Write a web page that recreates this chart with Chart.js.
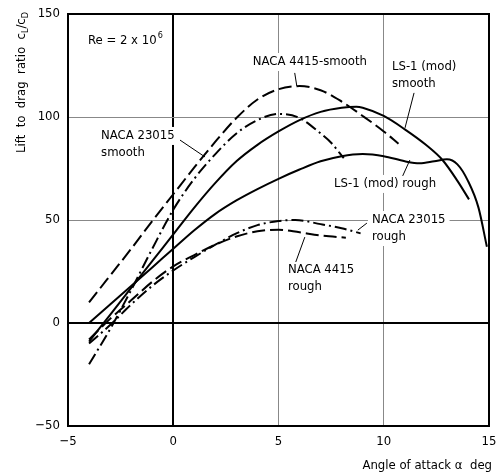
<!DOCTYPE html>
<html>
<head>
<meta charset="utf-8">
<script src="https://cdn.jsdelivr.net/npm/chart.js@4.4.1/dist/chart.umd.min.js"></script>
<style>
  html, body { margin: 0; padding: 0; background: #fff; }
</style>
</head>
<body>
<canvas id="ldChart" width="496" height="474"></canvas>
<script>
// lift to drag ratio vs angle of attack, Re = 2 x 10^6
const ls1SmoothAlpha = [-4, -3, -2, -1, 0, 1, 2, 3, 4, 5, 6, 7, 8, 8.7, 9, 10, 11, 12, 12.8, 13.5, 14.05];
const ls1SmoothLD    = [-9, 4, 17, 30, 43, 56, 68, 78.5, 86.5, 93, 98.5, 102.5, 104.5, 105, 104.5, 100.5, 94, 86.5, 79, 69, 60];

const ls1RoughAlpha = [-4, -3, -2, -1, 0, 1, 2, 3, 4, 5, 6, 7, 8, 9, 10, 11, 11.7, 12.4, 13, 13.5, 14, 14.5, 14.9];
const ls1RoughLD    = [0, 9, 18, 27, 36, 45, 53, 59.5, 65, 70, 74.5, 78.5, 81, 82, 81, 78.5, 77.5, 78.5, 79.5, 77, 69, 56, 37];

const naca4415SmoothAlpha = [-4, -3, -2, -1, 0, 1, 2, 3, 4, 5, 6, 7, 8, 9, 10, 10.7];
const naca4415SmoothLD    = [10, 23, 36, 49.5, 62.5, 75.5, 88, 99.5, 108.5, 113.5, 115, 113, 107.5, 100.5, 93, 87];

const naca23015SmoothAlpha = [-4, -3, -2, -1, 0, 1, 2, 3, 4, 5, 6, 7, 7.5, 8.1];
const naca23015SmoothLD    = [-20, -3, 16, 36, 55, 70, 82, 92, 98.5, 101.5, 99.5, 92, 87.5, 80];

const naca23015RoughAlpha = [-4, -3, -2, -1, 0, 1, 2, 3, 4, 5, 5.8, 7, 8, 8.9];
const naca23015RoughLD    = [-10, -1, 9, 18, 25.5, 32, 38, 43.5, 47.5, 49.5, 50, 48, 46, 43.5];

const naca4415RoughAlpha = [-4, -3, -2, -1, 0, 1, 2, 3, 4, 5, 6, 7, 8.2];
const naca4415RoughLD    = [-8, 2, 11, 20, 27.5, 33, 38, 42, 44.5, 45.3, 44, 42.5, 41.4];

const xTicks = [-5, 0, 5, 10, 15];
const yTicks = [-50, 0, 50, 100, 150];

const FONT = "'Liberation Sans Narrow', 'DejaVu Sans Condensed', 'Liberation Sans', sans-serif";

function pts(xs, ys) {
    return xs.map(function(x, i) { return { x: x, y: ys[i] }; });
}

function series(xs, ys, dash) {
    return {
        data: pts(xs, ys),
        borderColor: '#000',
        borderWidth: 2,
        borderDash: dash,
        pointRadius: 0,
        fill: false,
        showLine: true,
        cubicInterpolationMode: 'monotone'
    };
}

const LONG_DASH = [13, 5];
const DASH_DOT = [12, 4, 2, 4];

// labels and leader lines, in data units
const notes = [
    { lines: ['NACA 4415-smooth'], x: 3.78, y: 126.7, from: [5.77, 121.4], to: [5.87, 115] },
    { lines: ['LS-1 (mod)', 'smooth'], x: 10.39, y: 124.3, from: [11.44, 111.7], to: [11.01, 94.7] },
    { lines: ['NACA 23015', 'smooth'], x: -3.43, y: 90.8, from: [0.32, 88.8], to: [1.51, 80.6] },
    { lines: ['LS-1 (mod) rough'], x: 7.64, y: 67.5, from: [10.9, 71.4], to: [11.24, 79.1] },
    { lines: ['NACA 23015', 'rough'], x: 9.44, y: 50, from: [9.2, 48.5], to: [8.77, 45.1] },
    { lines: ['NACA 4415', 'rough'], x: 5.45, y: 25.7, from: [5.82, 29.6], to: [6.25, 41.7] }
];

const decorPlugin = {
    id: 'decor',
    beforeDatasetsDraw: function(chart) {
        const c = chart.ctx, xs = chart.scales.x, ys = chart.scales.y;
        c.save();
        c.font = '13px ' + FONT;
        c.textBaseline = 'middle';
        c.textAlign = 'left';
        notes.forEach(function(n) {
            const px = xs.getPixelForValue(n.x);
            const py = ys.getPixelForValue(n.y);
            n.lines.forEach(function(t, i) {
                const w = c.measureText(t).width;
                c.fillStyle = '#fff';
                c.fillRect(px - 4, py + i * 17 - 9, w + 8, 18);
            });
        });
        c.restore();
    },
    afterDatasetsDraw: function(chart) {
        const c = chart.ctx, xs = chart.scales.x, ys = chart.scales.y;
        const a = chart.chartArea;
        c.save();
        // frame
        c.strokeStyle = '#000';
        c.lineWidth = 2;
        c.strokeRect(a.left, a.top, a.right - a.left, a.bottom - a.top);

        c.fillStyle = '#000';
        c.font = '13px ' + FONT;
        c.textBaseline = 'middle';
        c.textAlign = 'left';
        c.lineWidth = 1;
        notes.forEach(function(n) {
            const px = xs.getPixelForValue(n.x);
            const py = ys.getPixelForValue(n.y);
            n.lines.forEach(function(t, i) { c.fillText(t, px, py + i * 17); });
            c.beginPath();
            c.moveTo(xs.getPixelForValue(n.from[0]), ys.getPixelForValue(n.from[1]));
            c.lineTo(xs.getPixelForValue(n.to[0]), ys.getPixelForValue(n.to[1]));
            c.stroke();
        });

        // Re = 2 x 10^6
        const rx = xs.getPixelForValue(-4.05), ry = ys.getPixelForValue(136.9);
        c.fillText('Re = 2 x 10', rx, ry);
        const rw = c.measureText('Re = 2 x 10').width;
        c.font = '9px ' + FONT;
        c.fillText('6', rx + rw + 1, ry - 5);

        // x axis title
        c.font = '13px ' + FONT;
        c.textAlign = 'right';
        c.fillText('Angle of attack \u03b1  deg', 492, 466);

        // y axis title, rotated
        c.translate(22, 153);
        c.rotate(-Math.PI / 2);
        c.textAlign = 'left';
        let cx = 0;
        const parts = [['Lift  to  drag  ratio  c', 0], ['L', 1], ['/c', 0], ['D', 1]];
        parts.forEach(function(p) {
            c.font = (p[1] ? '9px ' : '13px ') + FONT;
            c.fillText(p[0], cx, p[1] ? 4 : 0);
            cx += c.measureText(p[0]).width;
        });
        c.restore();
    }
};

const fmt = function(v) { return String(v).replace('-', '\u2212'); };

const ctxLD = document.getElementById('ldChart');
new Chart(ctxLD, {
    type: 'scatter',
    data: {
        datasets: [
            series(ls1SmoothAlpha, ls1SmoothLD, []),
            series(ls1RoughAlpha, ls1RoughLD, []),
            series(naca4415SmoothAlpha, naca4415SmoothLD, LONG_DASH),
            series(naca23015SmoothAlpha, naca23015SmoothLD, DASH_DOT),
            series(naca23015RoughAlpha, naca23015RoughLD, DASH_DOT),
            series(naca4415RoughAlpha, naca4415RoughLD, LONG_DASH)
        ]
    },
    options: {
        responsive: false,
        animation: false,
        layout: { padding: { left: 0, right: 7, top: 14, bottom: 0 } },
        plugins: { legend: { display: false }, tooltip: { enabled: false } },
        scales: {
            x: {
                type: 'linear',
                min: -5, max: 15,
                afterBuildTicks: function(s) { s.ticks = xTicks.map(function(v) { return { value: v }; }); },
                afterFit: function(s) { s.height = 48; s.paddingLeft = 0; s.paddingRight = 0; },
                border: { display: false },
                grid: {
                    drawTicks: false,
                    color: function(ctx) { return ctx.tick && ctx.tick.value === 0 ? '#000' : '#888'; },
                    lineWidth: function(ctx) { return ctx.tick && ctx.tick.value === 0 ? 2 : 1; }
                },
                ticks: {
                    padding: 8,
                    color: '#000',
                    font: { family: FONT, size: 13 },
                    maxRotation: 0,
                    callback: fmt
                }
            },
            y: {
                min: -50, max: 150,
                afterBuildTicks: function(s) { s.ticks = yTicks.map(function(v) { return { value: v }; }); },
                afterFit: function(s) { s.width = 68; s.paddingTop = 0; s.paddingBottom = 0; },
                border: { display: false },
                grid: {
                    drawTicks: false,
                    color: function(ctx) { return ctx.tick && ctx.tick.value === 0 ? '#000' : '#888'; },
                    lineWidth: function(ctx) { return ctx.tick && ctx.tick.value === 0 ? 2 : 1; }
                },
                ticks: {
                    padding: 8,
                    color: '#000',
                    font: { family: FONT, size: 13 },
                    callback: fmt
                }
            }
        }
    },
    plugins: [decorPlugin]
});
</script>
</body>
</html>
